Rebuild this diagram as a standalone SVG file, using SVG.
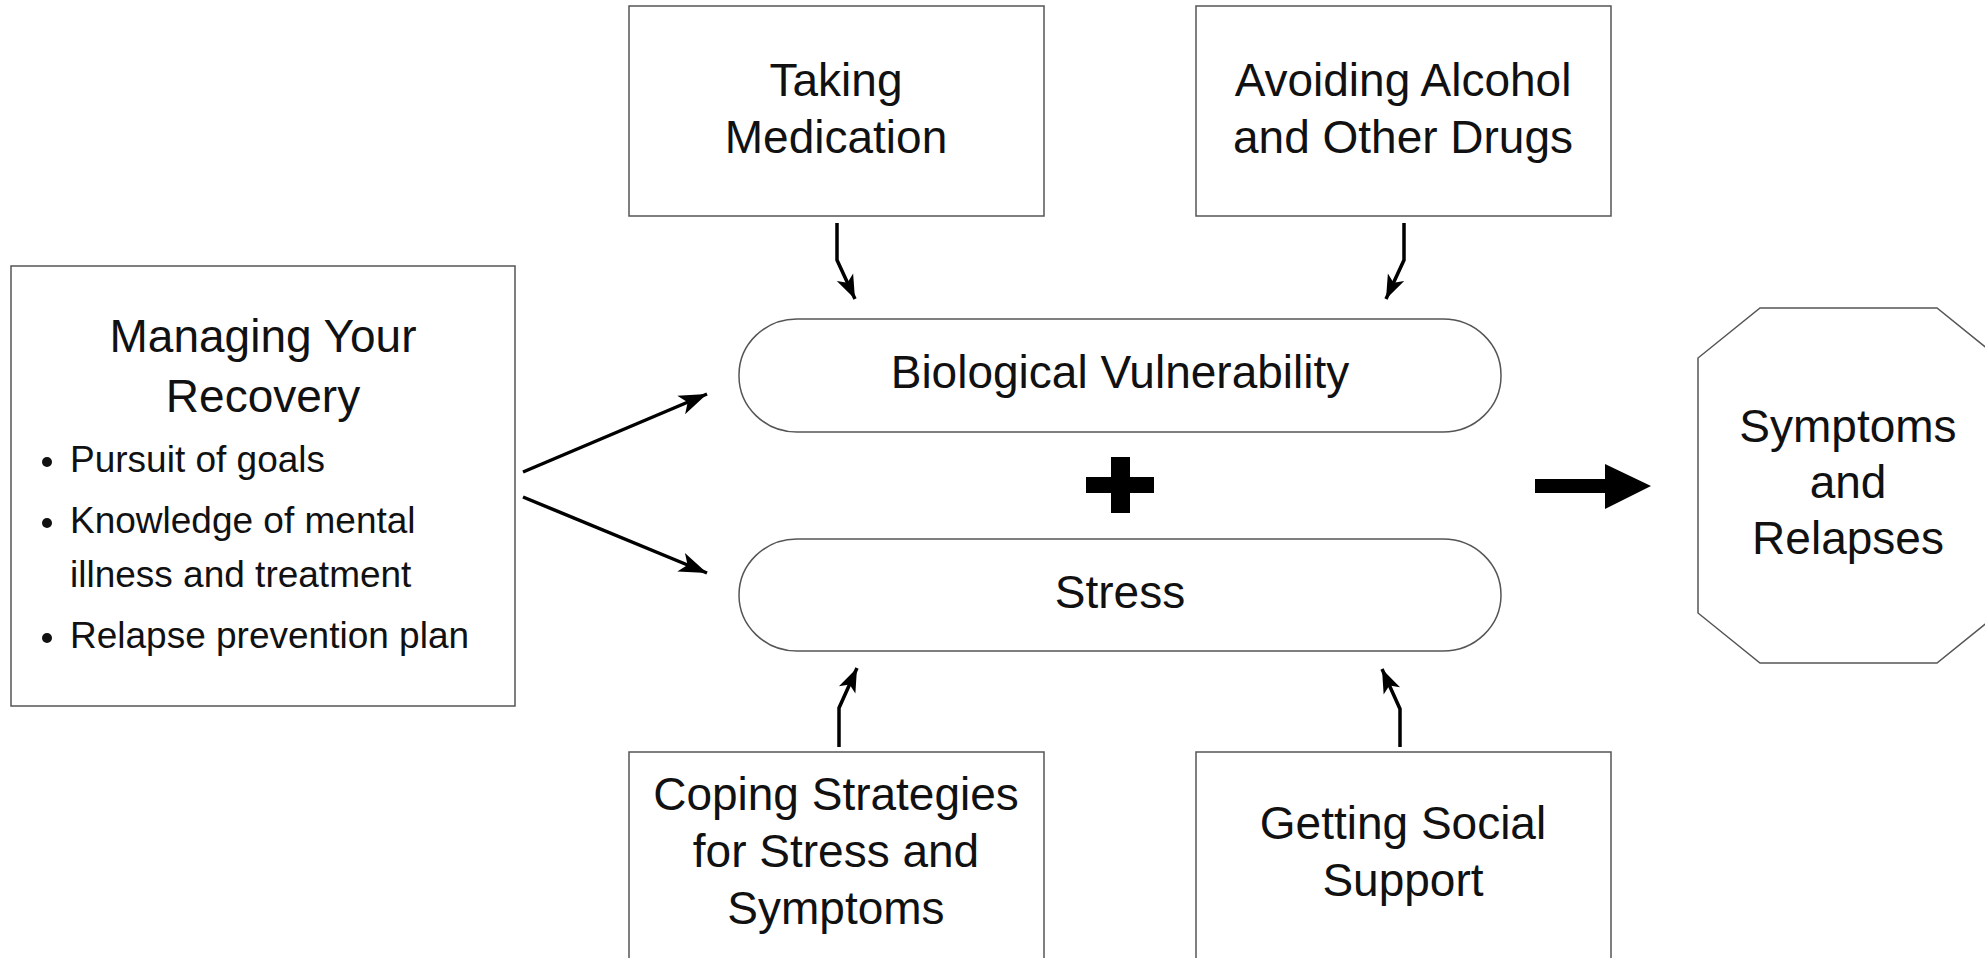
<svg xmlns="http://www.w3.org/2000/svg" width="1985" height="958" viewBox="0 0 1985 958">
<style>
.box{fill:#fff;stroke:#555;stroke-width:1.5}
.lbl{font-family:"Liberation Sans",Arial,sans-serif;font-size:46px;fill:#111;text-anchor:middle}
.bul{font-family:"Liberation Sans",Arial,sans-serif;font-size:37px;fill:#111}
.con{fill:none;stroke:#000;stroke-width:3.5}
</style>
<defs>
<marker id="ah" markerUnits="userSpaceOnUse" markerWidth="34" markerHeight="24" viewBox="-30 -12 32 24" refX="0" refY="0" orient="auto">
<path d="M0,0 L-28,-10 L-21,0 L-28,10 Z" fill="#000"/>
</marker>
<marker id="ahs" markerUnits="userSpaceOnUse" markerWidth="28" markerHeight="22" viewBox="-26 -11 28 22" refX="0" refY="0" orient="auto">
<path d="M0,0 L-24,-9 L-18,0 L-24,9 Z" fill="#000"/>
</marker>
</defs>
<rect width="1985" height="958" fill="#fff"/>

<g id="managing">
<rect class="box" x="11" y="266" width="504" height="440" stroke="#777"/>
<text class="lbl" x="263" y="352" font-size="45">Managing Your</text>
<text class="lbl" x="263" y="412" font-size="45">Recovery</text>
<circle cx="47" cy="462" r="5" fill="#111"/>
<text class="bul" x="70" y="472">Pursuit of goals</text>
<circle cx="47" cy="523" r="5" fill="#111"/>
<text class="bul" x="70" y="533">Knowledge of mental</text>
<text class="bul" x="70" y="587">illness and treatment</text>
<circle cx="47" cy="638" r="5" fill="#111"/>
<text class="bul" x="70" y="648">Relapse prevention plan</text>
</g>

<g id="medication">
<rect class="box" x="629" y="6" width="415" height="210"/>
<text class="lbl" x="836" y="96">Taking</text>
<text class="lbl" x="836" y="153">Medication</text>
</g>

<g id="avoiding">
<rect class="box" x="1196" y="6" width="415" height="210"/>
<text class="lbl" x="1403" y="96">Avoiding Alcohol</text>
<text class="lbl" x="1403" y="153">and Other Drugs</text>
</g>

<g id="coping">
<rect class="box" x="629" y="752" width="415" height="220"/>
<text class="lbl" x="836" y="810">Coping Strategies</text>
<text class="lbl" x="836" y="867">for Stress and</text>
<text class="lbl" x="836" y="924">Symptoms</text>
</g>

<g id="social">
<rect class="box" x="1196" y="752" width="415" height="220"/>
<text class="lbl" x="1403" y="839">Getting Social</text>
<text class="lbl" x="1403" y="896">Support</text>
</g>

<g id="biological">
<rect class="box" x="739" y="319" width="762" height="113" rx="58" ry="56" stroke="#444"/>
<text class="lbl" x="1120" y="388">Biological Vulnerability</text>
</g>

<g id="stress">
<rect class="box" x="739" y="539" width="762" height="112" rx="58" ry="56" stroke="#444"/>
<text class="lbl" x="1120" y="608">Stress</text>
</g>

<g id="plus">
<rect x="1111" y="457" width="19" height="56" fill="#000"/>
<rect x="1086" y="477" width="68" height="16" fill="#000"/>
</g>

<g id="symptoms">
<polygon class="box" points="1760,308 1937,308 1999,358 1999,613 1937,663 1760,663 1698,613 1698,358"/>
<text class="lbl" x="1848" y="442">Symptoms</text>
<text class="lbl" x="1848" y="498">and</text>
<text class="lbl" x="1848" y="554">Relapses</text>
</g>

<g id="connectors">
<line class="con" x1="523" y1="472" x2="707" y2="394" marker-end="url(#ah)"/>
<line class="con" x1="523" y1="497" x2="707" y2="573" marker-end="url(#ah)"/>
<polyline class="con" points="837,223 837,260 855,299" marker-end="url(#ahs)"/>
<polyline class="con" points="1404,223 1404,260 1386,299" marker-end="url(#ahs)"/>
<polyline class="con" points="839,747 839,708 857,668" marker-end="url(#ahs)"/>
<polyline class="con" points="1400,747 1400,709 1382,669" marker-end="url(#ahs)"/>
<polygon points="1535,479 1605,479 1605,464 1651,486 1605,509 1605,493 1535,493" fill="#000"/>
</g>
</svg>
